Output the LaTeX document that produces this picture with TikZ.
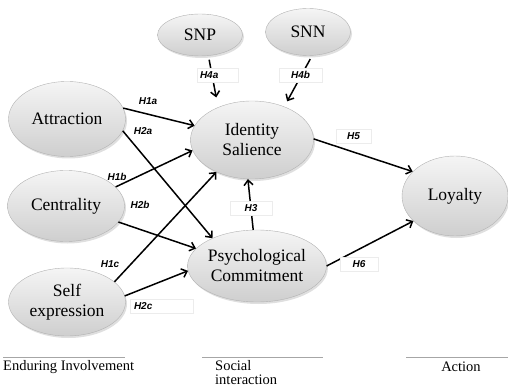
\documentclass[tikz,border=0pt]{standalone}
\usepackage{fontspec}
\setmainfont{Liberation Serif}
\newfontfamily\hypfont{Liberation Sans}
\usetikzlibrary{positioning,arrows.meta,shapes.geometric,shadows}

\begin{document}
\begin{tikzpicture}[x=1pt,y=-1pt,
    latent/.style={ellipse,draw=gray!60,top color=gray!8,bottom color=gray!38,
        drop shadow={shadow xshift=1.5pt,shadow yshift=-2pt,opacity=0.25},
        inner sep=0pt,align=center,font=\fontsize{17.5}{20}\selectfont},
    hyp/.style={font=\hypfont\bfseries\itshape\fontsize{10}{10}\selectfont,inner sep=1pt},
    hypbox/.style={hyp,draw=gray!15,fill=white,minimum height=14pt,inner sep=0pt},
    arr/.style={line width=1.5pt,-{Straight Barb[length=5pt,width=9pt]}},
    sep/.style={gray!70,line width=0.8pt},
    group/.style={font=\fontsize{14.5}{14}\selectfont,inner sep=0pt}]

    \useasboundingbox (0,0) rectangle (508,387);

    % constructs
    \node[latent,minimum width=85pt,minimum height=42pt] (snp) at(200,35) {SNP};
    \node[latent,minimum width=85pt,minimum height=47pt] (snn) at(308,32) {SNN};
    \node[latent,minimum width=117pt,minimum height=75pt] (attr) at(67,119) {Attraction};
    \node[latent,minimum width=117pt,minimum height=71pt] (cent) at(66,206) {Centrality};
    \node[latent,minimum width=117pt,minimum height=68pt] (self) at(67,302) {Self\\expression};
    \node[latent,minimum width=123pt,minimum height=78pt] (ids) at(252,140) {Identity\\Salience};
    \node[latent,minimum width=120pt,minimum height=72pt] (pc) at(257,266) {Psychological\\Commitment};
    \node[latent,minimum width=106pt,minimum height=80pt] (loy) at(455,196) {Loyalty};

    % paths
    \draw[arr] (attr.11) -- (ids.166);
    \draw[arr] (attr.-12) -- (pc.148);
    \draw[arr] (cent.21) -- (ids.190);
    \draw[arr] (cent.-17) -- (pc.164);
    \draw[arr] (self.23) -- (ids.222);
    \draw[arr] (self.6) -- (pc.184);
    \draw[arr] (pc.96) -- (ids.264);
    \draw[arr] (ids.1) -- (loy.150);
    \draw[arr] (pc.0) -- (loy.211);
    \draw[arr,shorten <=4pt,shorten >=10pt] (snp.-68) -- (ids.136);
    \draw[arr,shorten <=4pt,shorten >=6pt] (snn.-80) -- (ids.46);

    % hypotheses
    \node[hyp] (h1a) at(148,101) {H1a};
    \node[hyp] (h2a) at(143,131) {H2a};
    \node[hyp] (h1b) at(117,177) {H1b};
    \node[hyp] (h2b) at(140,205) {H2b};
    \node[hyp] (h1c) at(110,264) {H1c};
    \node[hypbox,text width=35pt,inner xsep=3pt,align=left] (h4a) at(217.5,75) {H4a};
    \node[hypbox,minimum width=43pt] (h4b) at(300.5,75) {H4b};
    \node[hypbox,minimum width=42pt] (h3) at(251,208) {H3};
    \node[hypbox,minimum width=35pt] (h5) at(353.5,136) {H5};
    \node[hypbox,minimum width=38pt] (h6) at(359,264.5) {H6};
    \node[hypbox,text width=55pt,inner xsep=4pt,align=left] (h2c) at(161.5,306.5) {H2c};

    % stages
    \draw[sep] (3,357) -- (125,357);
    \draw[sep] (202,357) -- (323,357);
    \draw[sep] (406,357) -- (508,357);
    \node[group,anchor=west] (endur) at(3,367) {Enduring Involvement};
    \node[group,anchor=north west,align=left] (social) at(215,360) {Social\\interaction};
    \node[group] (action) at(461,367) {Action};

\end{tikzpicture}
\end{document}
